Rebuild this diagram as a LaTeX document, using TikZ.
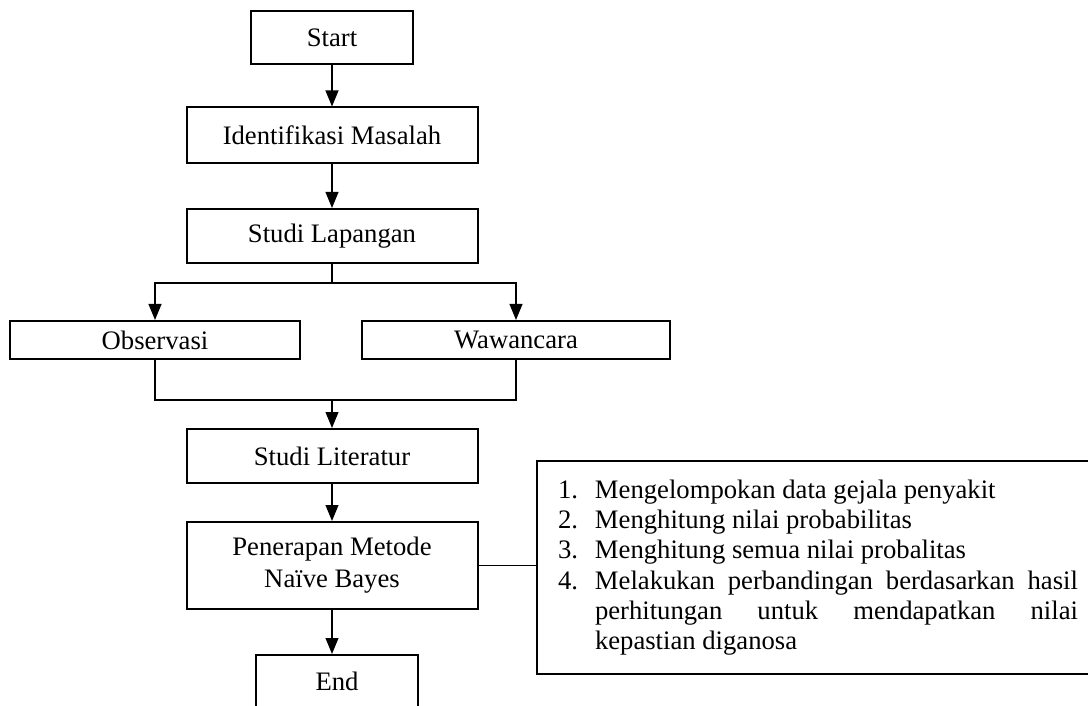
\documentclass[tikz,border=0pt]{standalone}
\usepackage{fontspec}
\setmainfont{Liberation Serif}
\usepackage{tikz}
\usetikzlibrary{arrows.meta,calc,positioning}

\newcommand{\listfont}{\fontsize{12}{13.6}\selectfont}
\tikzset{
  flowbox/.style={draw, line width=0.9pt, inner sep=2pt, minimum width=130.95pt, minimum height=24.3pt},
  endbox/.style={flowbox, minimum width=72.9pt, minimum height=23.85pt},
  listbox/.style={draw, line width=0.9pt, anchor=north west, align=justify,
    text width=234pt, inner xsep=9.45pt, inner ysep=8.5pt, font=\listfont},
  arrowline/.style={line width=0.6pt, -{Triangle[width=5.8pt,length=7.2pt]}},
  plainline/.style={line width=0.6pt}
}
\newcommand{\stepitem}[2]{\noindent\hangindent=16.65pt\hangafter=1\makebox[16.65pt][l]{#1}#2\par}

\begin{document}
\begin{tikzpicture}[x=0.45pt, y=-0.45pt, font=\fontsize{12}{14.4}\selectfont]
  \useasboundingbox (0,0) rectangle (1088,706);
  \clip (0,0) rectangle (1088,706);
  \hbadness=10000

  % Main column
  \node[endbox] (start) at (332,37.5) {Start};
  \node[flowbox, minimum height=25.2pt] (ident) at (332,135.5) {Identifikasi Masalah};
  \node[flowbox] (lapangan) at (332,236) {Studi Lapangan};

  % Field methods
  \node[flowbox, minimum width=130.5pt, minimum height=17.1pt] (obs) at (155,340) {Observasi};
  \node[flowbox, minimum width=138.6pt, minimum height=17.1pt] (waw) at (516,340) {Wawancara};

  \node[flowbox] (literatur) at (332,456) {Studi Literatur};
  \node[flowbox, minimum height=39.15pt, align=center] (naive) at (332,565.5) {Penerapan Metode\\Naïve Bayes};
  \node[endbox] (end) at (337,681.5) {End};

  % Steps of the method
  \node[listbox] (steps) at (536,460) {%
    \stepitem{1.}{Mengelompokan data gejala penyakit}
    \stepitem{2.}{Menghitung nilai probabilitas}
    \stepitem{3.}{Menghitung semua nilai probalitas}
    \stepitem{4.}{Melakukan perbandingan berdasarkan hasil\linebreak perhitungan untuk mendapatkan nilai\linebreak kepastian diganosa}};

  % Connectors
  \coordinate (split) at (332,283);
  \coordinate (merge) at (332,400);
  \draw[arrowline] (start) -- (ident);
  \draw[arrowline] (ident) -- (lapangan);
  \draw[plainline] (lapangan.south) -- (split);
  \draw[arrowline] (split) -| (obs.north);
  \draw[arrowline] (split) -| (waw.north);
  \draw[plainline] (obs.south) |- (merge);
  \draw[plainline] (waw.south) |- (merge);
  \draw[arrowline] (merge) -- (literatur.north);
  \draw[arrowline] (literatur) -- (naive);
  \draw[arrowline] (naive.south) -- (naive.south |- end.north);
  \draw[plainline] (naive.east) -- (naive.east -| steps.west);
\end{tikzpicture}
\end{document}
